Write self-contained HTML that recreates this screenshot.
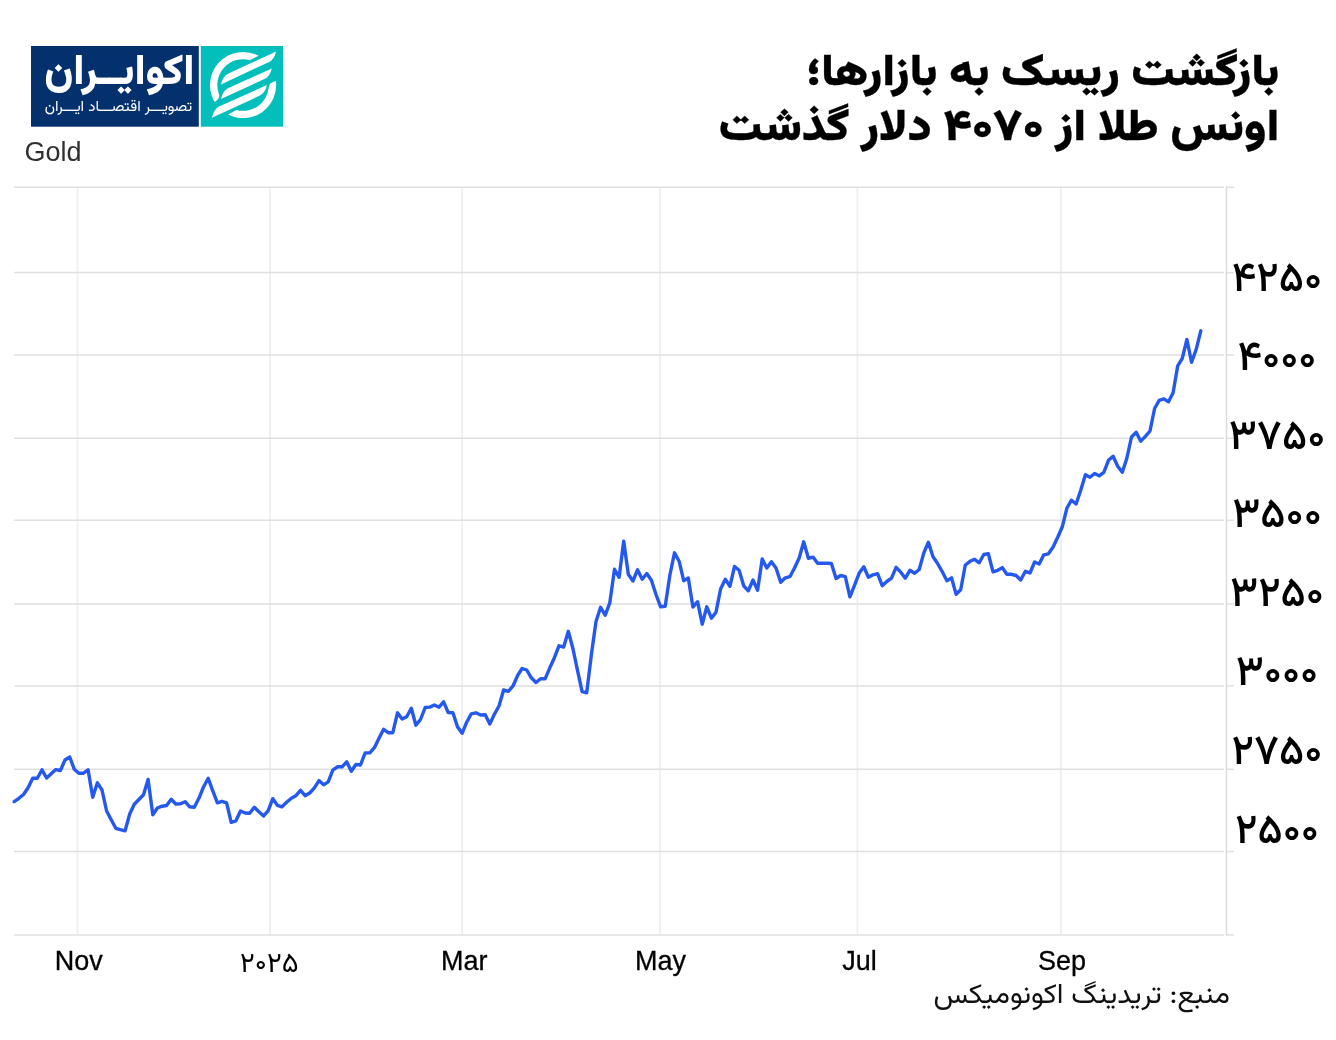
<!DOCTYPE html>
<html lang="fa"><head><meta charset="utf-8"><title>Gold</title>
<style>
html,body{margin:0;padding:0;background:#fff}
body{width:1336px;height:1040px;overflow:hidden}
svg{display:block}
</style></head><body>
<svg width="1336" height="1040" viewBox="0 0 1336 1040">
<rect width="1336" height="1040" fill="#fff"/>
<g id="grid" fill="none">
<line x1="77.5" y1="187.5" x2="77.5" y2="935" stroke="#ebf0f3" stroke-width="1.8"/>
<line x1="269.9" y1="187.5" x2="269.9" y2="935" stroke="#ebf0f3" stroke-width="1.8"/>
<line x1="462.1" y1="187.5" x2="462.1" y2="935" stroke="#ebf0f3" stroke-width="1.8"/>
<line x1="659.9" y1="187.5" x2="659.9" y2="935" stroke="#ebf0f3" stroke-width="1.8"/>
<line x1="857.4" y1="187.5" x2="857.4" y2="935" stroke="#ebf0f3" stroke-width="1.8"/>
<line x1="1061.0" y1="187.5" x2="1061.0" y2="935" stroke="#ebf0f3" stroke-width="1.8"/>
<line x1="14" y1="272.6" x2="1224" y2="272.6" stroke="#e0e0e0" stroke-width="1.5"/>
<line x1="1226" y1="272.6" x2="1234" y2="272.6" stroke="#e0e0e0" stroke-width="1.5"/>
<line x1="14" y1="354.9" x2="1224" y2="354.9" stroke="#e0e0e0" stroke-width="1.5"/>
<line x1="1226" y1="354.9" x2="1234" y2="354.9" stroke="#e0e0e0" stroke-width="1.5"/>
<line x1="14" y1="438.3" x2="1224" y2="438.3" stroke="#e0e0e0" stroke-width="1.5"/>
<line x1="1226" y1="438.3" x2="1234" y2="438.3" stroke="#e0e0e0" stroke-width="1.5"/>
<line x1="14" y1="520.3" x2="1224" y2="520.3" stroke="#e0e0e0" stroke-width="1.5"/>
<line x1="1226" y1="520.3" x2="1234" y2="520.3" stroke="#e0e0e0" stroke-width="1.5"/>
<line x1="14" y1="603.9" x2="1224" y2="603.9" stroke="#e0e0e0" stroke-width="1.5"/>
<line x1="1226" y1="603.9" x2="1234" y2="603.9" stroke="#e0e0e0" stroke-width="1.5"/>
<line x1="14" y1="685.9" x2="1224" y2="685.9" stroke="#e0e0e0" stroke-width="1.5"/>
<line x1="1226" y1="685.9" x2="1234" y2="685.9" stroke="#e0e0e0" stroke-width="1.5"/>
<line x1="14" y1="769.3" x2="1224" y2="769.3" stroke="#e0e0e0" stroke-width="1.5"/>
<line x1="1226" y1="769.3" x2="1234" y2="769.3" stroke="#e0e0e0" stroke-width="1.5"/>
<line x1="14" y1="851.5" x2="1224" y2="851.5" stroke="#e0e0e0" stroke-width="1.5"/>
<line x1="1226" y1="851.5" x2="1234" y2="851.5" stroke="#e0e0e0" stroke-width="1.5"/>
<line x1="14" y1="187.3" x2="1224" y2="187.3" stroke="#e0e0e0" stroke-width="1.5"/>
<line x1="1226" y1="187.3" x2="1234" y2="187.3" stroke="#e0e0e0" stroke-width="1.5"/>
<line x1="14" y1="934.9" x2="1224" y2="934.9" stroke="#e0e0e0" stroke-width="1.5"/>
<line x1="1226" y1="934.9" x2="1234" y2="934.9" stroke="#e0e0e0" stroke-width="1.5"/>
<line x1="1226.5" y1="186.4" x2="1226.5" y2="935.8" stroke="#dcdcdc" stroke-width="1.5"/>
</g>
<path id="series" d="M14.2,801.7 L18.9,798.3 L23.5,794.5 L28.1,787.8 L32.7,778.3 L37.3,778.3 L42.0,769.8 L46.6,778.0 L51.2,773.8 L55.8,769.6 L60.4,770.5 L65.0,760.0 L69.7,757.0 L74.3,769.3 L78.9,773.2 L83.5,773.2 L88.1,769.9 L92.7,797.2 L97.4,782.8 L102.0,790.0 L106.6,811.0 L111.2,819.7 L115.8,828.3 L120.4,829.6 L125.1,830.8 L129.7,814.0 L134.3,804.3 L138.9,799.5 L143.5,794.8 L148.1,779.5 L152.8,814.8 L157.4,808.0 L162.0,806.2 L166.6,805.5 L171.2,799.3 L175.8,804.0 L180.5,803.8 L185.1,801.7 L189.7,806.8 L194.3,807.3 L198.9,798.3 L203.5,787.0 L208.2,778.3 L212.8,790.8 L217.4,802.8 L222.0,801.3 L226.6,802.8 L231.2,822.3 L235.9,820.8 L240.5,811.0 L245.1,813.0 L249.7,813.3 L254.3,807.3 L258.9,811.8 L263.6,816.0 L268.2,810.7 L272.8,798.7 L277.4,805.3 L282.0,806.8 L286.6,802.3 L291.3,798.3 L295.9,795.7 L300.5,790.3 L305.1,795.7 L309.7,793.0 L314.4,787.8 L319.0,780.6 L323.6,784.8 L328.2,781.8 L332.8,770.2 L337.4,766.8 L342.1,766.8 L346.7,761.8 L351.3,771.3 L355.9,764.5 L360.5,765.0 L365.1,753.0 L369.8,752.8 L374.4,747.7 L379.0,738.3 L383.6,729.3 L388.2,732.7 L392.8,732.7 L397.5,712.8 L402.1,719.1 L406.7,716.8 L411.3,708.3 L415.9,725.2 L420.5,719.5 L425.2,707.5 L429.8,707.1 L434.4,705.0 L439.0,707.2 L443.6,701.8 L448.2,712.5 L452.9,712.8 L457.5,726.7 L462.1,733.3 L466.7,722.2 L471.3,713.8 L475.9,712.8 L480.6,715.0 L485.2,714.7 L489.8,724.0 L494.4,714.3 L499.0,706.0 L503.6,690.0 L508.3,691.3 L512.9,686.2 L517.5,675.7 L522.1,668.5 L526.7,670.0 L531.3,677.8 L536.0,682.5 L540.6,678.7 L545.2,678.7 L549.8,667.8 L554.4,657.7 L559.0,645.8 L563.7,647.0 L568.3,631.3 L572.9,648.5 L577.5,670.3 L582.1,691.6 L586.7,692.8 L591.4,654.5 L596.0,621.5 L600.6,607.3 L605.2,615.2 L609.8,602.8 L614.5,569.3 L619.1,577.3 L623.7,541.3 L628.3,574.3 L632.9,581.0 L637.5,569.8 L642.2,579.2 L646.8,573.5 L651.4,580.3 L656.0,594.5 L660.6,606.8 L665.2,606.2 L669.9,575.0 L674.5,552.8 L679.1,561.2 L683.7,580.7 L688.3,578.0 L692.9,607.0 L697.6,601.7 L702.2,624.2 L706.8,606.8 L711.4,618.2 L716.0,612.2 L720.6,589.0 L725.3,579.2 L729.9,586.3 L734.5,566.5 L739.1,570.2 L743.7,585.8 L748.3,590.8 L753.0,580.0 L757.6,590.2 L762.2,559.0 L766.8,568.0 L771.4,561.7 L776.0,568.0 L780.7,582.3 L785.3,577.8 L789.9,576.7 L794.5,568.0 L799.1,558.3 L803.7,541.8 L808.4,558.3 L813.0,557.1 L817.6,563.2 L822.2,563.2 L826.8,563.2 L831.4,563.5 L836.1,578.5 L840.7,575.5 L845.3,576.7 L849.9,596.8 L854.5,585.3 L859.1,573.3 L863.8,566.8 L868.4,577.3 L873.0,574.8 L877.6,573.7 L882.2,585.7 L886.8,581.5 L891.5,578.2 L896.1,567.3 L900.7,572.2 L905.3,578.1 L909.9,570.3 L914.6,573.3 L919.2,569.5 L923.8,553.0 L928.4,542.2 L933.0,556.8 L937.6,563.5 L942.3,571.8 L946.9,580.8 L951.5,577.8 L956.1,594.3 L960.7,589.8 L965.3,565.0 L970.0,561.3 L974.6,559.3 L979.2,562.8 L983.8,554.5 L988.4,553.8 L993.0,571.8 L997.7,570.3 L1002.3,567.6 L1006.9,574.3 L1011.5,574.3 L1016.1,575.5 L1020.7,580.0 L1025.4,571.3 L1030.0,573.0 L1034.6,562.0 L1039.2,564.0 L1043.8,554.8 L1048.4,553.8 L1053.1,547.0 L1057.7,537.3 L1062.3,526.8 L1066.9,508.0 L1071.5,500.2 L1076.1,504.0 L1080.8,490.0 L1085.4,474.7 L1090.0,477.3 L1094.6,473.5 L1099.2,475.8 L1103.8,472.3 L1108.5,460.3 L1113.1,456.2 L1117.7,466.3 L1122.3,472.3 L1126.9,458.0 L1131.5,437.0 L1136.2,432.2 L1140.8,441.2 L1145.4,436.3 L1150.0,431.0 L1154.6,408.5 L1159.2,400.3 L1163.9,398.8 L1168.5,401.8 L1173.1,392.8 L1177.7,365.8 L1182.3,358.3 L1186.9,339.5 L1191.6,362.3 L1196.2,349.3 L1200.8,330.8" fill="none" stroke="#2458ee" stroke-width="3.4" stroke-linejoin="round" stroke-linecap="round"/>
<g id="logo">
<rect x="31" y="46" width="167.8" height="80.7" fill="#04306e"/>
<rect x="200.8" y="46" width="82.2" height="80.7" fill="#03bfbb"/>
<g fill="#fff">
<path d="M258.61,55.83 A33.08,33.08 0 0 0 214.72,102.07 Q220.00,98.98 219.18,94.69 A25.77,25.77 0 0 1 249.75,60.15 Z"/>
<path d="M275.91,81.01 A33.08,33.08 0 0 1 228.06,114.51 L236.41,109.93 A25.77,25.77 0 0 0 268.75,87.28 Q269.04,82.35 275.91,81.01 Z"/>
<path d="M220.96,84.56 Q222.69,76.38 228.46,73.50 L276.06,51.38 Q274.33,59.56 268.65,62.15 Z"/>
<path d="M220.96,98.98 Q222.69,90.81 228.46,87.92 L271.73,68.50 Q270.00,76.67 264.33,79.08 Z"/>
<path d="M211.92,117.73 Q213.65,109.56 219.04,106.48 L266.92,85.04 Q265.19,93.21 259.42,95.81 Z"/>
</g>
<text transform="translate(194.50,84.00) scale(0.982,1)" direction="rtl" text-anchor="start" font-family="Vazirmatn, 'DejaVu Sans', sans-serif" font-size="42" font-weight="900" fill="#fff" textLength="153.1" lengthAdjust="spacingAndGlyphs">اکوایــران</text>
<text transform="translate(192.19,110.50) scale(1.015,1)" direction="rtl" text-anchor="start" font-family="Vazirmatn, 'DejaVu Sans', sans-serif" font-size="15" font-weight="400" fill="#fff" textLength="145.2" lengthAdjust="spacingAndGlyphs">تصویـــر اقتصـــاد ایـــران</text>
</g>
<g id="labels">
<text transform="translate(24.50,161.00)" text-anchor="start" font-family="'Liberation Sans', 'DejaVu Sans', sans-serif" font-size="27" fill="#303030">Gold</text>
<text transform="translate(1279.30,84.90) scale(1,0.93)" direction="rtl" text-anchor="start" font-family="Vazirmatn, 'DejaVu Sans', sans-serif" font-size="47.5" font-weight="900" fill="#000" textLength="473.0" lengthAdjust="spacingAndGlyphs" stroke="#000" stroke-width="0.3">بازگشت ریسک به بازارها؛</text>
<text transform="translate(1279.30,139.90) scale(1,0.93)" direction="rtl" text-anchor="start" font-family="Vazirmatn, 'DejaVu Sans', sans-serif" font-size="47.5" font-weight="900" fill="#000" textLength="560.5" lengthAdjust="spacingAndGlyphs" stroke="#000" stroke-width="0.3">اونس طلا از ۴۰۷۰ دلار گذشت</text>
<text x="1277.00" y="290.90" text-anchor="middle" font-family="Vazirmatn, 'DejaVu Sans', sans-serif" font-size="42" font-weight="500" fill="#000" textLength="90.3" lengthAdjust="spacingAndGlyphs">۴۲۵۰</text>
<text x="1277.00" y="370.00" text-anchor="middle" font-family="Vazirmatn, 'DejaVu Sans', sans-serif" font-size="42" font-weight="500" fill="#000" textLength="79.0" lengthAdjust="spacingAndGlyphs">۴۰۰۰</text>
<text x="1277.00" y="449.10" text-anchor="middle" font-family="Vazirmatn, 'DejaVu Sans', sans-serif" font-size="42" font-weight="500" fill="#000" textLength="96.7" lengthAdjust="spacingAndGlyphs">۳۷۵۰</text>
<text x="1277.00" y="526.90" text-anchor="middle" font-family="Vazirmatn, 'DejaVu Sans', sans-serif" font-size="42" font-weight="500" fill="#000" textLength="89.7" lengthAdjust="spacingAndGlyphs">۳۵۰۰</text>
<text x="1277.00" y="605.90" text-anchor="middle" font-family="Vazirmatn, 'DejaVu Sans', sans-serif" font-size="42" font-weight="500" fill="#000" textLength="94.0" lengthAdjust="spacingAndGlyphs">۳۲۵۰</text>
<text x="1277.00" y="685.30" text-anchor="middle" font-family="Vazirmatn, 'DejaVu Sans', sans-serif" font-size="42" font-weight="500" fill="#000" textLength="82.6" lengthAdjust="spacingAndGlyphs">۳۰۰۰</text>
<text x="1277.00" y="764.10" text-anchor="middle" font-family="Vazirmatn, 'DejaVu Sans', sans-serif" font-size="42" font-weight="500" fill="#000" textLength="91.0" lengthAdjust="spacingAndGlyphs">۲۷۵۰</text>
<text x="1277.00" y="843.10" text-anchor="middle" font-family="Vazirmatn, 'DejaVu Sans', sans-serif" font-size="42" font-weight="500" fill="#000" textLength="84.0" lengthAdjust="spacingAndGlyphs">۲۵۰۰</text>
<text transform="translate(78.80,970.00) scale(1,1.04)" text-anchor="middle" font-family="'Liberation Sans', 'DejaVu Sans', sans-serif" font-size="27" fill="#000" stroke="#000" stroke-width="0.3">Nov</text>
<text transform="translate(464.30,970.00) scale(1,1.04)" text-anchor="middle" font-family="'Liberation Sans', 'DejaVu Sans', sans-serif" font-size="27" fill="#000" stroke="#000" stroke-width="0.3">Mar</text>
<text transform="translate(660.60,970.00) scale(1,1.04)" text-anchor="middle" font-family="'Liberation Sans', 'DejaVu Sans', sans-serif" font-size="27" fill="#000" stroke="#000" stroke-width="0.3">May</text>
<text transform="translate(859.40,970.00) scale(1,1.04)" text-anchor="middle" font-family="'Liberation Sans', 'DejaVu Sans', sans-serif" font-size="27" fill="#000" stroke="#000" stroke-width="0.3">Jul</text>
<text transform="translate(1062.00,970.00) scale(1,1.04)" text-anchor="middle" font-family="'Liberation Sans', 'DejaVu Sans', sans-serif" font-size="27" fill="#000" stroke="#000" stroke-width="0.3">Sep</text>
<text x="269.20" y="972.20" text-anchor="middle" font-family="Vazirmatn, 'DejaVu Sans', sans-serif" font-size="28.2" font-weight="400" fill="#000" textLength="59.0" lengthAdjust="spacingAndGlyphs">۲۰۲۵</text>
<text transform="translate(1229.80,1002.50) scale(1.008,0.96)" direction="rtl" text-anchor="start" font-family="Vazirmatn, 'DejaVu Sans', sans-serif" font-size="28.7" font-weight="400" fill="#111" textLength="293.9" lengthAdjust="spacingAndGlyphs">منبع: تریدینگ اکونومیکس</text>
</g>
</svg>
</body></html>
